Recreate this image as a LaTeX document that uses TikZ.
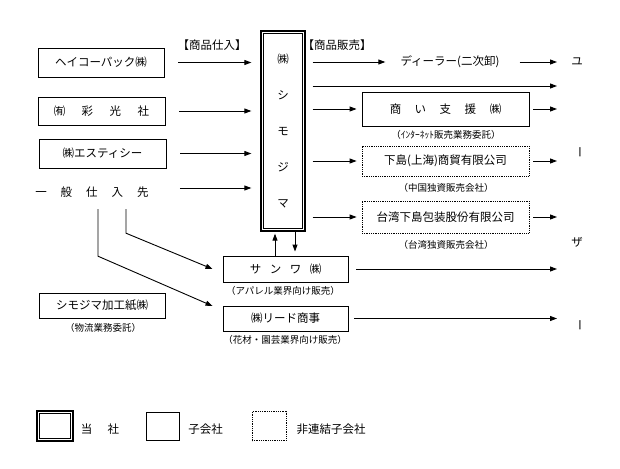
\documentclass[tikz,border=0pt]{standalone}
\usepackage{fontspec}
\setmainfont{Noto Sans CJK JP}
\usetikzlibrary{arrows.meta}
\tikzset{
  mainfont/.style={font=\fontsize{11.5}{13}\selectfont},
  lblfont/.style={font=\fontsize{9.5}{11}\selectfont},
  cbox/.style={draw, line width=0.9pt, inner sep=0pt, mainfont},
  ncbox/.style={draw, line width=0.8pt, densely dotted, inner sep=0pt, mainfont},
  plain/.style={inner sep=0pt, mainfont},
  lbl/.style={inner sep=0pt, lblfont},
  arr/.style={-{Triangle[length=7pt,width=5pt]}, line width=0.9pt},
  ln/.style={line width=0.9pt},
}
\begin{document}
\begin{tikzpicture}[x=1pt,y=-1pt]
\useasboundingbox (0,0) rectangle (620,468);

% suppliers
\node[cbox, minimum width=126pt, minimum height=29pt] (heico) at (101,62.5) {ヘイコーパック㈱};
\node[cbox, minimum width=127pt, minimum height=28pt] (saiko) at (101.5,111) {㈲\hspace{16.5pt}彩\hspace{16.5pt}光\hspace{16.5pt}社};
\node[cbox, minimum width=127pt, minimum height=29pt] (estc) at (102.5,153.5) {㈱エスティシー};
\node[plain, minimum height=34pt] (ippan) at (92,192) {一\hspace{14pt}般\hspace{14pt}仕\hspace{14pt}入\hspace{14pt}先};

\node[plain] (shiire) at (212,45) {【商品仕入】};
\node[plain] (hanbai) at (337,45) {【商品販売】};

% Shimojima (double frame)
\node[draw, line width=1.3pt, minimum width=44pt, minimum height=200pt, inner sep=0pt,
      align=center, font=\fontsize{11.5}{36}\selectfont] (shimo) at (283,131)
      {㈱\\シ\\モ\\ジ\\マ};
\draw[line width=0.6pt] ([shift={(3pt,-3pt)}]shimo.north west) rectangle ([shift={(-3pt,3pt)}]shimo.south east);

% inbound arrows
\foreach \n in {heico,saiko,estc}
  \draw[arr, shorten <=14pt, shorten >=9pt] (\n.east) -- (\n.east -| shimo.west);
\draw[arr, shorten <=31pt, shorten >=9pt] ([yshift=4pt]ippan.east) -- ([yshift=4pt]ippan.east -| shimo.west);

% sales side
\node[plain] (dealer) at (450,62) {ディーラー(二次卸)};
\node[cbox, minimum width=167pt, minimum height=34pt] (shoi) at (445.5,109) {商\hspace{13.5pt}い\hspace{13.5pt}支\hspace{13.5pt}援\hspace{13.5pt}㈱};
\node[lbl] (shoil) at (446,135) {（ｲﾝﾀｰﾈｯﾄ販売業務委託）};
\node[ncbox, minimum width=167pt, minimum height=30pt] (shanghai) at (445.5,161) {下島(上海)商貿有限公司};
\node[lbl] (shanghail) at (446,188) {（中国独資販売会社）};
\node[ncbox, minimum width=167pt, minimum height=32pt] (taiwan) at (445.5,217) {台湾下島包装股份有限公司};
\node[lbl] (taiwanl) at (446,245) {（台湾独資販売会社）};

\node[cbox, minimum width=125pt, minimum height=26pt] (sanwa) at (285.5,269) {サ\hspace{8.5pt}ン\hspace{8.5pt}ワ\hspace{8.5pt}㈱};
\node[lbl] (sanwal) at (283,291) {（アパレル業界向け販売）};
\node[cbox, minimum width=125pt, minimum height=25pt] (lead) at (285.5,318.5) {㈱リード商事};
\node[lbl] (leadl) at (285,340) {（花材・園芸業界向け販売）};

\node[cbox, minimum width=126pt, minimum height=25pt] (kako) at (102,305.5) {シモジマ加工紙㈱};
\node[lbl] (kakol) at (103,328) {（物流業務委託）};

% user column
\node[plain] (u1) at (577,62) {ユ};
\node[plain, rotate=-90] (u2) at (578,152) {ー};
\node[plain] (u3) at (577,242) {ザ};
\node[plain, rotate=-90] (u4) at (578,325) {ー};
\coordinate (uc) at (557,0);
\coordinate (l2) at (557,86);

% outbound arrows
\draw[arr, shorten <=7pt, shorten >=15pt] (shimo.east |- dealer) -- (dealer.west);
\draw[arr, shorten <=20pt] (dealer.east) -- (uc |- dealer);
\draw[arr, shorten <=7pt] (shimo.east |- l2) -- (l2);
\foreach \n in {shoi,shanghai,taiwan}{
  \draw[arr, shorten <=7pt, shorten >=5pt] (shimo.east |- \n) -- (\n.west);
  \draw[arr, shorten <=4pt] (\n.east) -- (uc |- \n);
}
\draw[arr, shorten <=8pt] (sanwa.east) -- (uc |- sanwa);
\draw[arr, shorten <=6pt] (lead.east) -- (uc |- lead);

% Sanwa <-> Shimojima
\draw[arr, shorten >=2pt] ([xshift=-10.5pt]sanwa.north) -- ([xshift=-10.5pt]sanwa.north |- shimo.south);
\draw[arr, shorten >=4pt] ([xshift=9.5pt]sanwa.north |- shimo.south) -- ([xshift=9.5pt]sanwa.north);

% general suppliers to Sanwa / Lead
\draw[arr] ([xshift=34pt]ippan.south) -- ++(0,24) -- ([xshift=-10pt]sanwa.west);
\draw[arr] ([xshift=6pt]ippan.south) -- ++(0,47) -- ([xshift=-10pt,yshift=12.5pt]lead.west);

% legend
\node[draw, line width=1.3pt, minimum width=36pt, minimum height=30pt, inner sep=0pt] (lg1) at (55,426) {};
\draw[line width=0.6pt] ([shift={(3pt,-3pt)}]lg1.north west) rectangle ([shift={(-3pt,3pt)}]lg1.south east);
\node[plain] (lg1t) at (100,429) {当\hspace{15.5pt}社};
\node[cbox, minimum width=33pt, minimum height=28pt] (lg2) at (162.5,426) {};
\node[plain] (lg2t) at (205.5,429) {子会社};
\node[ncbox, minimum width=34pt, minimum height=29pt] (lg3) at (269,426) {};
\node[plain] (lg3t) at (331,429) {非連結子会社};
\end{tikzpicture}
\end{document}
